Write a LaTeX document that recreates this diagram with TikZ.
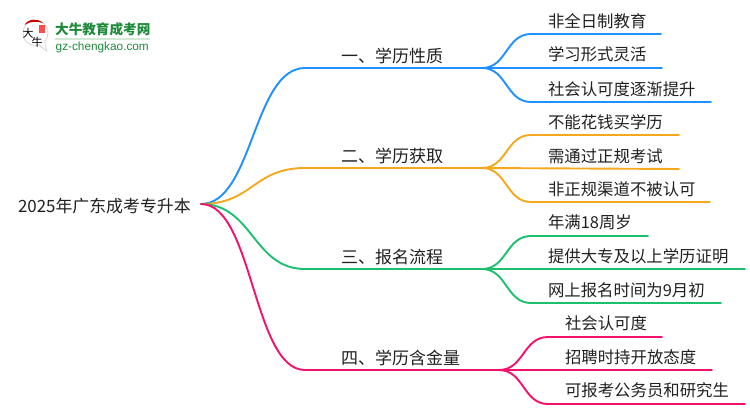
\documentclass[tikz,border=0pt]{standalone}
\usepackage{fontspec}
\setmainfont{Noto Sans CJK SC}
\newfontfamily\latinlogo{Liberation Sans}
\definecolor{cblue}{HTML}{1E90FF}
\definecolor{corange}{HTML}{F5A81C}
\definecolor{cgreen}{HTML}{1CBF6E}
\definecolor{cpink}{HTML}{F5106E}
\definecolor{clogo}{HTML}{1E8A3A}
\definecolor{ctext}{HTML}{202020}
\tikzset{
  x=1pt,y=-1pt,
  lab/.style={anchor=base west,inner sep=0pt,outer sep=0pt,text=ctext,font=\fontsize{16.4pt}{18pt}\selectfont},
  mainlab/.style={lab,font=\fontsize{17pt}{19pt}\selectfont},
  link/.style={line width=1.9pt,line cap=round},
  conn/.style={link,to path={.. controls ($(\tikztostart)+(#1,0)$) and ($(\tikztotarget)+(-#1,0)$) .. (\tikztotarget)}},
  conn/.default=26
}
\usetikzlibrary{calc}
\begin{document}
\begin{tikzpicture}
\useasboundingbox (0,0) rectangle (750,410);
% logo
\fill[black!15] (35.5,33) circle (13);
\fill[white] (35.5,33) circle (12);
\fill[black!15] (38,45) -- (47.5,52) -- (45,41) -- cycle;
\fill[white] (39,44) -- (46,49.5) -- (44,41) -- cycle;
\fill[red!80!black] (24.5,25) .. controls (28,18.5) and (38,18) .. (43,23) .. controls (37,21) and (30,21) .. (24.5,25) -- cycle;
\fill[red!70!white] (38.5,25) rectangle (45,33);
\node[inner sep=0pt,font=\fontsize{11pt}{11pt}\selectfont,text=black] (logoa) at (28,33) {大};
\node[inner sep=0pt,font=\fontsize{11pt}{11pt}\selectfont,text=black] (logob) at (37,42) {牛};
\node[inner sep=0pt,anchor=base west,font=\fontsize{13.6pt}{14pt}\selectfont\bfseries,text=clogo] (logot) at (55,34.5) {大牛教育成考网};
\fill[clogo!20] (55,38) rectangle (150,39.5);
\node[inner sep=0pt,anchor=base west,font=\latinlogo\fontsize{11.8pt}{12pt}\selectfont,text=clogo] (logou) at (55.5,50) {gz-chengkao.com};
% root
\node[lab,font=\fontsize{16.9pt}{18pt}\selectfont] (root) at (18,212) {2025年广东成考专升本};
\coordinate (r) at (201,204);
% main junctions
\coordinate (m1a) at (305,68);  \coordinate (m1b) at (482,68);
\coordinate (m2a) at (305,168); \coordinate (m2b) at (482,168);
\coordinate (m3a) at (305,269); \coordinate (m3b) at (482,269);
\coordinate (m4a) at (305,370); \coordinate (m4b) at (499,370);
% sub ends
\coordinate (s1s) at (531,34);  \coordinate (s1e) at (661,34);
\coordinate (s2e) at (662,68);
\coordinate (s3s) at (531,102); \coordinate (s3e) at (711,102);
\coordinate (s4s) at (531,135); \coordinate (s4e) at (679,135);
\coordinate (s5e) at (679,169);
\coordinate (s6s) at (531,202); \coordinate (s6e) at (710,202);
\coordinate (s7s) at (531,236); \coordinate (s7e) at (648,236);
\coordinate (s8e) at (745,269);
\coordinate (s9s) at (531,303); \coordinate (s9e) at (721,303);
\coordinate (s10s) at (548,337); \coordinate (s10e) at (662,337);
\coordinate (s11e) at (712,370);
\coordinate (s12s) at (548,404); \coordinate (s12e) at (745,404);
% blue
\draw[link,cblue] (r) to[conn=52] (m1a) -- (m1b);
\draw[link,cblue] (m1b) to[conn=25] (s1s) -- (s1e);
\draw[link,cblue] (m1b) -- (s2e);
\draw[link,cblue] (m1b) to[conn=25] (s3s) -- (s3e);
% orange
\draw[link,corange] (r) to[conn=52] (m2a) -- (m2b);
\draw[link,corange] (m2b) to[conn=25] (s4s) -- (s4e);
\draw[link,corange] (m2b) -- (s5e);
\draw[link,corange] (m2b) to[conn=25] (s6s) -- (s6e);
% green
\draw[link,cgreen] (r) to[conn=52] (m3a) -- (m3b);
\draw[link,cgreen] (m3b) to[conn=25] (s7s) -- (s7e);
\draw[link,cgreen] (m3b) -- (s8e);
\draw[link,cgreen] (m3b) to[conn=25] (s9s) -- (s9e);
% pink
\draw[link,cpink] (r) to[conn=52] (m4a) -- (m4b);
\draw[link,cpink] (m4b) to[conn=25] (s10s) -- (s10e);
\draw[link,cpink] (m4b) -- (s11e);
\draw[link,cpink] (m4b) to[conn=25] (s12s) -- (s12e);
% main labels
\node[mainlab] (l1) at (341,62) {一、学历性质};
\node[mainlab] (l2) at (341,162) {二、学历获取};
\node[mainlab] (l3) at (341,263) {三、报名流程};
\node[mainlab] (l4) at (341,364) {四、学历含金量};
% sub labels
\node[lab] (t1) at (548,27) {非全日制教育};
\node[lab] (t2) at (548,60) {学习形式灵活};
\node[lab] (t3) at (548,95) {社会认可度逐渐提升};
\node[lab] (t4) at (548,128) {不能花钱买学历};
\node[lab] (t5) at (548,162) {需通过正规考试};
\node[lab] (t6) at (548,195) {非正规渠道不被认可};
\node[lab] (t7) at (548,228) {年满18周岁};
\node[lab] (t8) at (548,262) {提供大专及以上学历证明};
\node[lab] (t9) at (548,296) {网上报名时间为9月初};
\node[lab] (t10) at (565,329) {社会认可度};
\node[lab] (t11) at (565,363) {招聘时持开放态度};
\node[lab] (t12) at (565,396) {可报考公务员和研究生};
\end{tikzpicture}
\end{document}
